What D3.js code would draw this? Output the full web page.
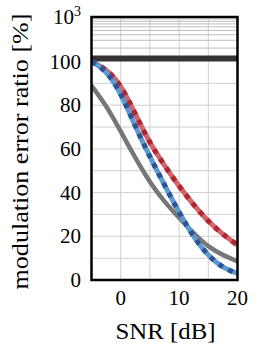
<html>
<head>
<meta charset="utf-8"/>
<script src="https://d3js.org/d3.v7.min.js"></script>
<style type="text/css">
body {
  margin: 0;
  overflow: hidden;
  background: #fff;
}
text {
  font-family: "Liberation Serif", "DejaVu Serif", serif;
  fill: #000;
}
</style>
</head>
<body>
<div id="v"></div>
<script type="text/javascript">
// data
var snr = [-5, -2.5, 0, 2.5, 5, 7.5, 10, 12.5, 15, 17.5, 20];
var grayMer = [89, 79.5, 68, 56, 45, 36, 28.5, 21.5, 15.5, 11.5, 8.5];
var redMer  = [100, 96, 88.5, 76, 63, 52.5, 43, 34.5, 27, 21, 16];
var blueMer = [100, 95, 85, 70.5, 56.5, 43.5, 31, 20, 11.5, 6, 3];

var xTicks = [0, 10, 20];
var yTicks = [0, 20, 40, 60, 80, 100];
var yGridLin = [10, 20, 30, 40, 50, 60, 70, 80, 90];
var yGridLog = [200, 300, 400, 500, 600, 700, 800, 900];
var xGrid = [0, 5, 10, 15];

var width = 259, height = 353;
var pL = 91.5, pR = 237.5, pT = 17, pB = 280;

var svg = d3.select("#v").append("svg")
  .attr("width", width)
  .attr("height", height);

var x = d3.scaleLinear().domain([-5, 20]).range([pL, pR]);
var yLin = d3.scaleLinear().domain([0, 100]).range([pB, 61.5]);
var yLog = d3.scaleLog().domain([100, 1000]).range([61.5, pT]);

var defs = svg.append("defs");
defs.append("clipPath").attr("id", "clip")
  .append("rect")
  .attr("x", pL).attr("y", pT)
  .attr("width", pR - pL).attr("height", pB - pT);

var plot = svg.append("g").attr("clip-path", "url(#clip)");

// grid
plot.selectAll(".gx").data(xGrid).enter().append("line")
  .attr("x1", function(d) { return x(d); })
  .attr("x2", function(d) { return x(d); })
  .attr("y1", pT).attr("y2", pB)
  .attr("stroke", "#cfcfcf").attr("stroke-width", 1);

plot.selectAll(".gy").data(yGridLin).enter().append("line")
  .attr("x1", pL).attr("x2", pR)
  .attr("y1", function(d) { return yLin(d); })
  .attr("y2", function(d) { return yLin(d); })
  .attr("stroke", "#cfcfcf").attr("stroke-width", 1);

plot.selectAll(".gl").data(yGridLog).enter().append("line")
  .attr("x1", pL).attr("x2", pR)
  .attr("y1", function(d) { return yLog(d); })
  .attr("y2", function(d) { return yLog(d); })
  .attr("stroke", "#b5b5b5").attr("stroke-width", 0.9);

// thick band marking 100 %
plot.append("line")
  .attr("x1", pL).attr("x2", pR)
  .attr("y1", yLin(100) - 3).attr("y2", yLin(100) - 3)
  .attr("stroke", "#333").attr("stroke-width", 6);

var line = d3.line()
  .x(function(d) { return x(d[0]); })
  .y(function(d) { return yLin(d[1]); })
  .curve(d3.curveNatural);

function pts(vals) { return snr.map(function(s, i) { return [s, vals[i]]; }); }

plot.append("path").attr("d", line(pts(grayMer)))
  .attr("fill", "none").attr("stroke", "#777").attr("stroke-width", 4.5);

plot.append("path").attr("d", line(pts(redMer)))
  .attr("fill", "none").attr("stroke", "#d2646f").attr("stroke-width", 5);
plot.append("path").attr("d", line(pts(redMer)))
  .attr("fill", "none").attr("stroke", "#b0262d").attr("stroke-width", 5)
  .attr("stroke-dasharray", "5,6");

plot.append("path").attr("d", line(pts(blueMer)))
  .attr("fill", "none").attr("stroke", "#5b9bd0").attr("stroke-width", 5);
plot.append("path").attr("d", line(pts(blueMer)))
  .attr("fill", "none").attr("stroke", "#2d5393").attr("stroke-width", 5)
  .attr("stroke-dasharray", "5,6");

// frame
svg.append("rect")
  .attr("x", pL).attr("y", pT)
  .attr("width", pR - pL).attr("height", pB - pT)
  .attr("fill", "none").attr("stroke", "#000").attr("stroke-width", 2.5);

// tick labels
svg.selectAll(".xt").data(xTicks).enter().append("text")
  .attr("x", function(d) { return x(d); })
  .attr("y", 305)
  .attr("text-anchor", "middle")
  .style("font-size", "21px")
  .text(function(d) { return d; });

svg.selectAll(".yt").data(yTicks).enter().append("text")
  .attr("x", 81)
  .attr("y", function(d) { return yLin(d) + 7; })
  .attr("text-anchor", "end")
  .style("font-size", "21px")
  .text(function(d) { return d; });

var t3 = svg.append("text")
  .attr("x", 81)
  .attr("y", yLog(1000) + 7)
  .attr("text-anchor", "end")
  .style("font-size", "21px");
t3.append("tspan").text("10");
t3.append("tspan").attr("dy", -8).style("font-size", "14px").text("3");

// axis labels
svg.append("text")
  .attr("x", (pL + pR) / 2 + 1)
  .attr("y", 339)
  .attr("text-anchor", "middle")
  .attr("textLength", 100)
  .attr("lengthAdjust", "spacingAndGlyphs")
  .style("font-size", "24px")
  .text("SNR [dB]");

svg.append("text")
  .attr("transform", "translate(28," + ((pT + pB) / 2 + 3) + ") rotate(-90)")
  .attr("text-anchor", "middle")
  .attr("textLength", 276)
  .attr("lengthAdjust", "spacingAndGlyphs")
  .style("font-size", "24px")
  .text("modulation error ratio [%]");
</script>
</body>
</html>
